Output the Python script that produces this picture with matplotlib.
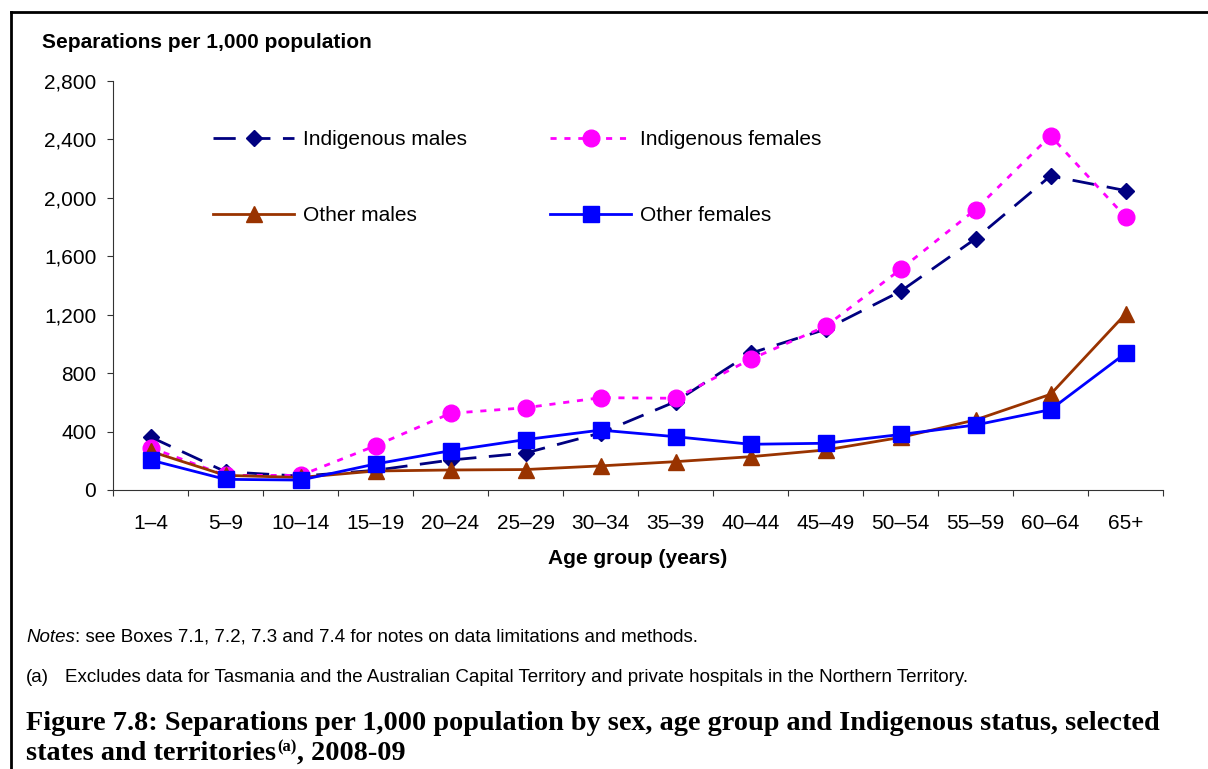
import matplotlib
matplotlib.use("Agg")
import matplotlib.pyplot as plt
from matplotlib.lines import Line2D
from matplotlib.ticker import FuncFormatter, FixedLocator

plt.rcParams["font.family"] = ["Liberation Sans", "DejaVu Sans"]

age_groups = ["1–4", "5–9", "10–14", "15–19", "20–24", "25–29", "30–34",
              "35–39", "40–44", "45–49", "50–54", "55–59", "60–64", "65+"]

indigenous_males = [363, 125, 95, 135, 205, 253, 390, 605, 936, 1100, 1360, 1720, 2150, 2050]
indigenous_females = [290, 100, 100, 303, 525, 563, 632, 628, 895, 1120, 1510, 1920, 2425, 1870]
other_males = [265, 100, 86, 130, 137, 140, 165, 194, 228, 274, 360, 480, 655, 1205]
other_females = [205, 73, 68, 178, 269, 345, 410, 365, 313, 320, 380, 445, 550, 936]

y_ticks = [0, 400, 800, 1200, 1600, 2000, 2400, 2800]

W, H = 1208, 769
fig = plt.figure(figsize=(W / 100, H / 100), dpi=100)


def fx(px):
    return px / W


def fy(py):
    return 1 - py / H


ax = fig.add_axes([fx(113), fy(490), fx(1163) - fx(113), fy(81) - fy(490)])

x = list(range(len(age_groups)))

ax.plot(x, indigenous_males, color="#000080", lw=2.0, dashes=(8, 4.5),
        marker="D", markersize=8, markerfacecolor="#000080",
        markeredgecolor="#000080", label="Indigenous males")
ax.plot(x, indigenous_females, color="#FF00FF", lw=2.0, dashes=(2.2, 2.8),
        marker="o", markersize=12, markerfacecolor="#FF00FF",
        markeredgecolor="#FF00FF", label="Indigenous females")
ax.plot(x, other_males, color="#993300", lw=2.0,
        marker="^", markersize=12, markerfacecolor="#993300",
        markeredgecolor="#993300", label="Other males")
ax.plot(x, other_females, color="#0000FF", lw=2.0,
        marker="s", markersize=11, markerfacecolor="#0000FF",
        markeredgecolor="#0000FF", label="Other females")

ax.set_xlim(-0.5, len(age_groups) - 0.5)
ax.set_ylim(0, 2800)

# category labels sit between the boundary ticks
ax.xaxis.set_major_locator(FixedLocator([i - 0.5 for i in range(len(age_groups) + 1)]))
ax.xaxis.set_minor_locator(FixedLocator(x))
ax.set_xticklabels([])
ax.set_xticklabels(age_groups, minor=True)
ax.tick_params(axis="x", which="major", direction="out", length=4, width=0.8,
               color="#333333")
ax.tick_params(axis="x", which="minor", length=0, pad=17, labelsize=15)

ax.set_yticks(y_ticks)
ax.yaxis.set_major_formatter(FuncFormatter(lambda v, p: "{:,.0f}".format(v)))
ax.tick_params(axis="y", direction="out", length=4, width=0.8, color="#333333",
               pad=8, labelsize=15)

for side in ["top", "right"]:
    ax.spines[side].set_visible(False)
for side in ["left", "bottom"]:
    ax.spines[side].set_color("#333333")
    ax.spines[side].set_linewidth(0.8)

handles, labels = ax.get_legend_handles_labels()
order = [0, 2, 1, 3]
ax.legend([handles[i] for i in order], [labels[i] for i in order],
          ncol=2, loc="upper left", bbox_to_anchor=(fx(213), fy(130)),
          bbox_transform=fig.transFigure, frameon=False, fontsize=15,
          handlelength=3.9, handletextpad=0.4, columnspacing=4.0,
          labelspacing=2.74, borderpad=0, borderaxespad=0)

fig.text(fx(42), fy(42), "Separations per 1,000 population", fontsize=15,
         fontweight="bold", ha="left", va="center")
fig.text(fx(638), fy(559), "Age group (years)", fontsize=15,
         fontweight="bold", ha="center", va="center")

renderer = fig.canvas.get_renderer()

# notes under the chart
t = fig.text(fx(26), fy(637), "Notes", fontsize=13.5, style="italic",
             ha="left", va="center")
fig.text(t.get_window_extent(renderer).x1 / W, fy(637),
         ": see Boxes 7.1, 7.2, 7.3 and 7.4 for notes on data limitations and methods.",
         fontsize=13.5, ha="left", va="center")
fig.text(fx(26), fy(677), "(a)", fontsize=13.5, ha="left", va="center")
fig.text(fx(65), fy(677),
         "Excludes data for Tasmania and the Australian Capital Territory and private hospitals in the Northern Territory.",
         fontsize=13.5, ha="left", va="center")

title_font = dict(family=["Liberation Serif", "DejaVu Serif"], fontweight="bold")
fig.text(fx(26), fy(723),
         "Figure 7.8: Separations per 1,000 population by sex, age group and Indigenous status, selected",
         fontsize=20.3, ha="left", va="center", **title_font)
t1 = fig.text(fx(26), fy(753), "states and territories", fontsize=20.3,
              ha="left", va="center", **title_font)
x_end = t1.get_window_extent(renderer).x1
t2 = fig.text(x_end / W + 0.001, fy(747), "(a)", fontsize=12,
              ha="left", va="center", **title_font)
x_end = t2.get_window_extent(renderer).x1
fig.text(x_end / W, fy(753), ", 2008-09", fontsize=20.3,
         ha="left", va="center", **title_font)

# outer frame
fig.add_artist(Line2D([fx(11), 1.0], [fy(12), fy(12)], color="black", lw=2,
                      transform=fig.transFigure))
fig.add_artist(Line2D([fx(11), fx(11)], [fy(12), 0.0], color="black", lw=2,
                      transform=fig.transFigure))

fig.savefig("out.png", dpi=100)
